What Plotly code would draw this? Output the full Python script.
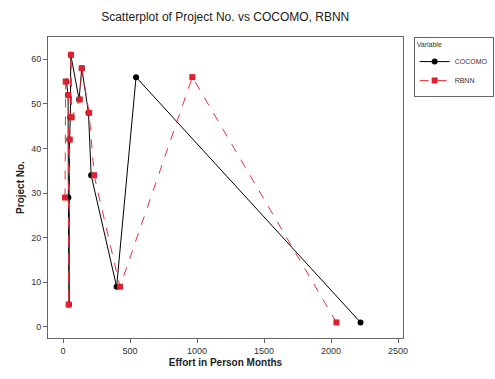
import plotly.graph_objects as go
import numpy as np

project_no = [1, 5, 9, 29, 34, 42, 47, 48, 51, 52, 55, 56, 58, 61]
cocomo = [2220, 45, 400, 40, 210, 48, 55, 190, 120, 38, 25, 545, 140, 58]
rbnn = [2040, 42, 425, 15, 232, 50, 65, 195, 125, 40, 20, 965, 140, 60]

def sorted_xy(x, y):
    idx = np.argsort(x)
    return [x[i] for i in idx], [y[i] for i in idx]

cx, cy = sorted_xy(cocomo, project_no)
rx, ry = sorted_xy(rbnn, project_no)

fig = go.Figure()
fig.add_trace(go.Scatter(x=cx, y=cy, mode="lines+markers", name="COCOMO",
                         line=dict(color="black", width=1),
                         marker=dict(symbol="circle", size=6, color="black")))
fig.add_trace(go.Scatter(x=rx, y=ry, mode="lines+markers", name="RBNN",
                         line=dict(color="#e8303a", width=1, dash="dash"),
                         marker=dict(symbol="square", size=6, color="#e0202e")))

axis_common = dict(showgrid=False, zeroline=False, showline=True, linecolor="#666",
                   linewidth=1, mirror=True, ticks="outside", ticklen=4,
                   tickcolor="#666", tickfont=dict(size=9, color="#333", family="Liberation Sans"))

fig.update_layout(
    width=495, height=379,
    margin=dict(l=48, r=92, t=37, b=41, autoexpand=False),
    paper_bgcolor="white", plot_bgcolor="white",
    title=dict(text="Scatterplot of Project No. vs COCOMO, RBNN", x=0.455, xanchor="center",
               y=0.955, yanchor="middle", font=dict(size=12, color="#222", family="Liberation Sans")),
    xaxis=dict(range=[-112, 2537], tickvals=[0, 500, 1000, 1500, 2000, 2500],
               title=dict(text="<b>Effort in Person Months</b>", standoff=4,
                          font=dict(size=10, color="#222", family="Liberation Sans")),
               **axis_common),
    yaxis=dict(range=[-2.5, 65], tickvals=[0, 10, 20, 30, 40, 50, 60],
               title=dict(text="<b>Project No.</b>", standoff=4,
                          font=dict(size=10, color="#222", family="Liberation Sans")),
               **axis_common),
    legend=dict(x=1.03, y=1.0, xanchor="left", yanchor="top",
                bordercolor="#666", borderwidth=1, bgcolor="white",
                title=dict(text="Variable", side="top", font=dict(size=7, color="#333")),
                font=dict(size=7, color="#333", family="Liberation Sans"),
                itemwidth=30),
    showlegend=True,
)

fig.write_html("out.html")
